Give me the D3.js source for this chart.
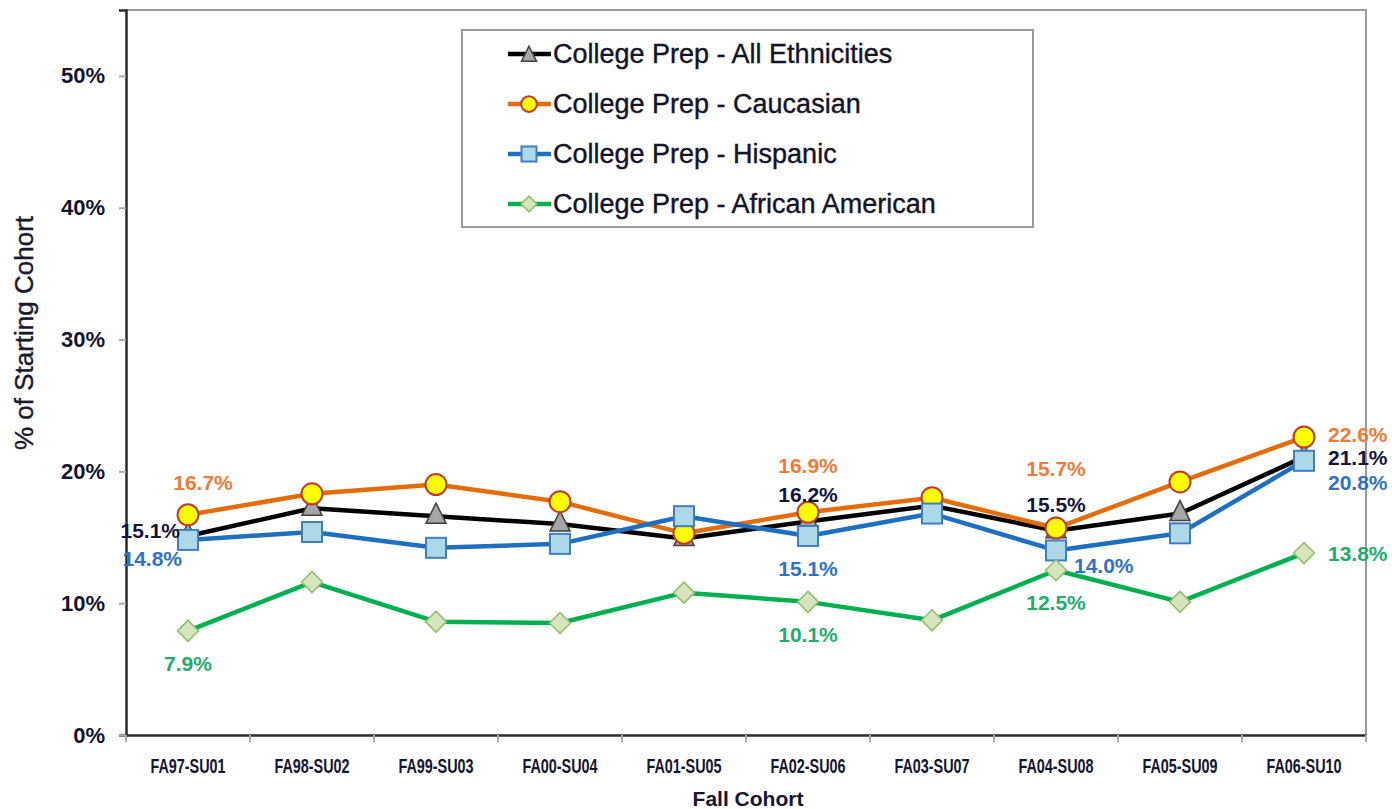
<!DOCTYPE html>
<html><head><meta charset="utf-8">
<script src="https://cdn.jsdelivr.net/npm/d3@7"></script>
<style>
html,body{margin:0;padding:0;background:#fff;}
svg{display:block;font-family:"Liberation Sans",Arial,sans-serif;}
</style></head>
<body>
<svg id="c" width="1392" height="809"></svg>
<script>
const categories = ["FA97-SU01","FA98-SU02","FA99-SU03","FA00-SU04","FA01-SU05","FA02-SU06","FA03-SU07","FA04-SU08","FA05-SU09","FA06-SU10"];
const seriesNames = ["College Prep - All Ethnicities","College Prep - Caucasian","College Prep - Hispanic","College Prep - African American"];
const allEthnicities = [15.1,17.2,16.6,16.0,14.9,16.2,17.4,15.5,16.8,21.1];
const caucasian      = [16.7,18.3,19.0,17.7,15.3,16.9,18.0,15.7,19.2,22.6];
const hispanic       = [14.8,15.4,14.2,14.5,16.6,15.1,16.8,14.0,15.3,20.8];
const africanAmerican= [7.9,11.6,8.6,8.5,10.8,10.1,8.7,12.5,10.1,13.8];
const yTicks = [0,10,20,30,40,50];
// labelled points: [series index, category index, placement]
const labelSeries = [1,0,2,3, 1,0,2,3, 1,0,2,3, 1,0,2,3];
const labelIndex  = [0,0,0,0, 5,5,5,5, 7,7,7,7, 9,9,9,9];
const labelPlace  = ["aboveR","left","leftBelow","below","above2","above","below","below","above3","above","rightBelow","below","rightUp","right","right2","right"];

const values = [allEthnicities, caucasian, hispanic, africanAmerican];
const lineColors = ["#000000","#E46C0A","#1F6FC0","#00B050"];
const labelColors = ["#14143a","#F07A38","#2E72C6","#1DAE6E"];
const markers = ["triangle","circle","square","diamond"];
const markerFill = ["#A6A6A6","#FFFF00","#ADD8E8","#D7E4BD"];
const markerStroke = ["#404040","#C0392B","#3F7FC0","#8DBF6A"];

const svg = d3.select("#c");
const L=126, R=1366, T=10, B=735;
const x = d3.scaleBand().domain(categories).range([L,R]);
const y = d3.scaleLinear().domain([0,55]).range([B,T]);
const cx = c => x(c)+x.bandwidth()/2;

// frame (top/right grey)
svg.append("path").attr("d",`M${L},${T}H${R}V${B}`).attr("fill","none").attr("stroke","#9a9a9a").attr("stroke-width",2);

// y axis
const ya = svg.append("g").attr("transform",`translate(${L},0)`)
  .call(d3.axisLeft(y).tickValues(yTicks).tickSize(7).tickPadding(14).tickFormat(d=>d+"%"));
ya.select(".domain").attr("stroke","#2a2a2a").attr("stroke-width",2.5);
ya.selectAll(".tick line").attr("stroke","#aaa").attr("stroke-width",2);
ya.selectAll(".tick text").attr("font-size",22).attr("font-weight","bold").attr("fill","#151530").attr("font-family","Liberation Sans, Arial, sans-serif");

// x axis
const xa = svg.append("g").attr("transform",`translate(0,${B})`)
  .call(d3.axisBottom(x).tickSize(0).tickPadding(0));
xa.select(".domain").attr("stroke","#2a2a2a").attr("stroke-width",2.5);
xa.selectAll(".tick text").attr("font-size",20).attr("font-weight","bold").attr("fill","#151530")
  .attr("font-family","Liberation Sans, Arial, sans-serif").attr("y",38).attr("dy",0)
  .attr("transform","scale(0.72,1)");
// band boundary ticks
svg.append("g").selectAll("line").data(categories.concat(["_end"])).join("line")
  .attr("x1",(d,i)=> i<categories.length ? x(d) : R).attr("x2",(d,i)=> i<categories.length ? x(d) : R)
  .attr("y1",B).attr("y2",B+7).attr("stroke","#aaa").attr("stroke-width",2);

// axis titles
svg.append("text").attr("transform",`translate(33,333) rotate(-90)`).attr("text-anchor","middle")
  .attr("font-size",26).attr("fill","#1a1a2e").attr("stroke","#1a1a2e").attr("stroke-width",0.4).text("% of Starting Cohort");
svg.append("text").attr("x",748).attr("y",806).attr("text-anchor","middle")
  .attr("font-size",21).attr("font-weight","bold").attr("fill","#151530").text("Fall Cohort");

// marker drawing
function drawMarker(g, type, px, py, i, scale){
  const s = scale||1;
  if(type==="circle"){
    g.append("circle").attr("cx",px).attr("cy",py).attr("r",10.5*s)
      .attr("fill",markerFill[i]).attr("stroke",markerStroke[i]).attr("stroke-width",2);
  } else if(type==="square"){
    const h=10*s;
    g.append("rect").attr("x",px-h).attr("y",py-h).attr("width",2*h).attr("height",2*h)
      .attr("fill",markerFill[i]).attr("stroke",markerStroke[i]).attr("stroke-width",2);
  } else if(type==="triangle"){
    const h=10*s;
    g.append("path").attr("d",`M${px},${py-h*1.3}L${px+h},${py+h*0.7}L${px-h},${py+h*0.7}Z`)
      .attr("fill",markerFill[i]).attr("stroke",markerStroke[i]).attr("stroke-width",1.5);
  } else {
    const h=10.5*s;
    g.append("path").attr("d",`M${px},${py-h}L${px+h},${py}L${px},${py+h}L${px-h},${py}Z`)
      .attr("fill",markerFill[i]).attr("stroke",markerStroke[i]).attr("stroke-width",1.5);
  }
}

const line = d3.line().x((d,j)=>cx(categories[j])).y(d=>y(d));
values.forEach((vals,i)=>{
  const g = svg.append("g");
  g.append("path").datum(vals).attr("d",line).attr("fill","none")
    .attr("stroke",lineColors[i]).attr("stroke-width",4.5).attr("stroke-linejoin","round");
  vals.forEach((v,j)=> drawMarker(g, markers[i], cx(categories[j]), y(v), i));
});

// data labels
const placeOffsets = {
  aboveR:[15,-25,"middle"], left:[-8,2,"end"], leftBelow:[-6,26,"end"], below:[0,40,"middle"],
  above2:[0,-39,"middle"], above:[0,-19,"middle"], above3:[0,-52,"middle"],
  rightBelow:[18,23,"start"], right:[24,8,"start"], rightUp:[24,5,"start"], right2:[24,29,"start"]
};
labelSeries.forEach((si,k)=>{
  const j = labelIndex[k];
  const v = values[si][j];
  const o = placeOffsets[labelPlace[k]];
  svg.append("text").attr("x",cx(categories[j])+o[0]).attr("y",y(v)+o[1]).attr("text-anchor",o[2])
    .attr("font-size",21).attr("font-weight","bold").attr("fill",labelColors[si]).text(v.toFixed(1)+"%");
});

// legend
const lg = svg.append("g");
lg.append("rect").attr("x",462).attr("y",30).attr("width",571).attr("height",197)
  .attr("fill","#fff").attr("stroke","#9a9a9a").attr("stroke-width",2);
seriesNames.forEach((n,i)=>{
  const yy = 54 + i*50;
  lg.append("line").attr("x1",508).attr("x2",551).attr("y1",yy).attr("y2",yy)
    .attr("stroke",lineColors[i]).attr("stroke-width",4.5);
  drawMarker(lg, markers[i], 529, yy+(i===0?2:0), i, 0.75);
  lg.append("text").attr("x",553).attr("y",yy+9).attr("font-size",27).attr("fill","#141428")
    .attr("stroke","#141428").attr("stroke-width",0.4).text(n);
});
</script>
</body></html>
